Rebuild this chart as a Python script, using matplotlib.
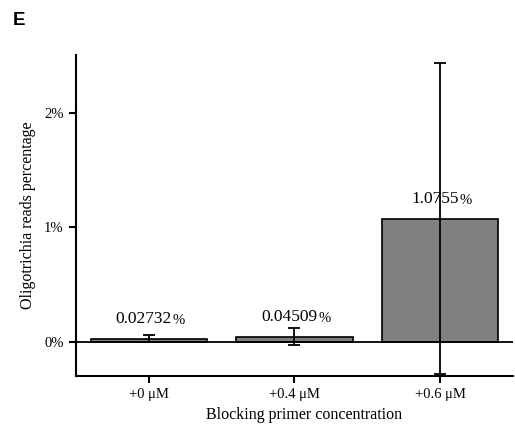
import matplotlib
matplotlib.use("Agg")
import matplotlib.pyplot as plt
import numpy as np
from matplotlib.ticker import FuncFormatter

# data (percent)
categories = ["+0 \u03bcM", "+0.4 \u03bcM", "+0.6 \u03bcM"]
values = [0.02732, 0.04509, 1.0755]
errors = [0.029, 0.078, 1.355]
value_labels = ["0.02732", "0.04509", "1.0755"]

plt.rcParams["font.family"] = ["Liberation Serif", "DejaVu Serif"]

fig = plt.figure(figsize=(5.15, 4.25), dpi=100)
ax = fig.add_axes([0.1476, 0.116, 0.8484, 0.7546])

x = np.arange(len(categories))
ax.bar(x, values, width=0.8, color="#808080", edgecolor="black", linewidth=1.2, zorder=2)
ax.errorbar(x, values, yerr=errors, fmt="none", ecolor="black", elinewidth=1.3,
            capsize=4, capthick=1.3, zorder=4)
ax.axhline(0, color="black", linewidth=1.3, zorder=3)

# value labels, with a slightly smaller percent sign like the original
for xi, v, lab in zip(x, values, value_labels):
    t = ax.annotate(lab, (xi, v), xytext=(-3.5, 8), textcoords="offset points",
                    ha="center", va="bottom", fontsize=12.5)
    ax.annotate("%", xy=(1, 0), xycoords=t, xytext=(0.3, 0.5), textcoords="offset points",
                ha="left", va="bottom", fontsize=10.5)

ax.set_xlim(-0.5, 2.5)
ax.set_ylim(-0.297, 2.504)
ax.set_yticks([0, 1, 2])
ax.yaxis.set_major_formatter(FuncFormatter(lambda v, p: f"{v:.0f}%"))
ax.set_xticks(x)
ax.set_xticklabels(categories)

for s in ["top", "right"]:
    ax.spines[s].set_visible(False)
for s in ["left", "bottom"]:
    ax.spines[s].set_linewidth(1.5)
ax.tick_params(axis="both", width=1.5, length=5, labelsize=10.5, pad=4)

ax.set_xlabel("Blocking primer concentration", fontsize=11.5, labelpad=4, x=0.523)
ax.set_ylabel("Oligotrichia reads percentage", fontsize=11.5, labelpad=6)

fig.text(0.025, 0.942, "E", fontsize=13.5, fontweight="bold", family="Liberation Sans")

fig.savefig("out.png", dpi=100)
